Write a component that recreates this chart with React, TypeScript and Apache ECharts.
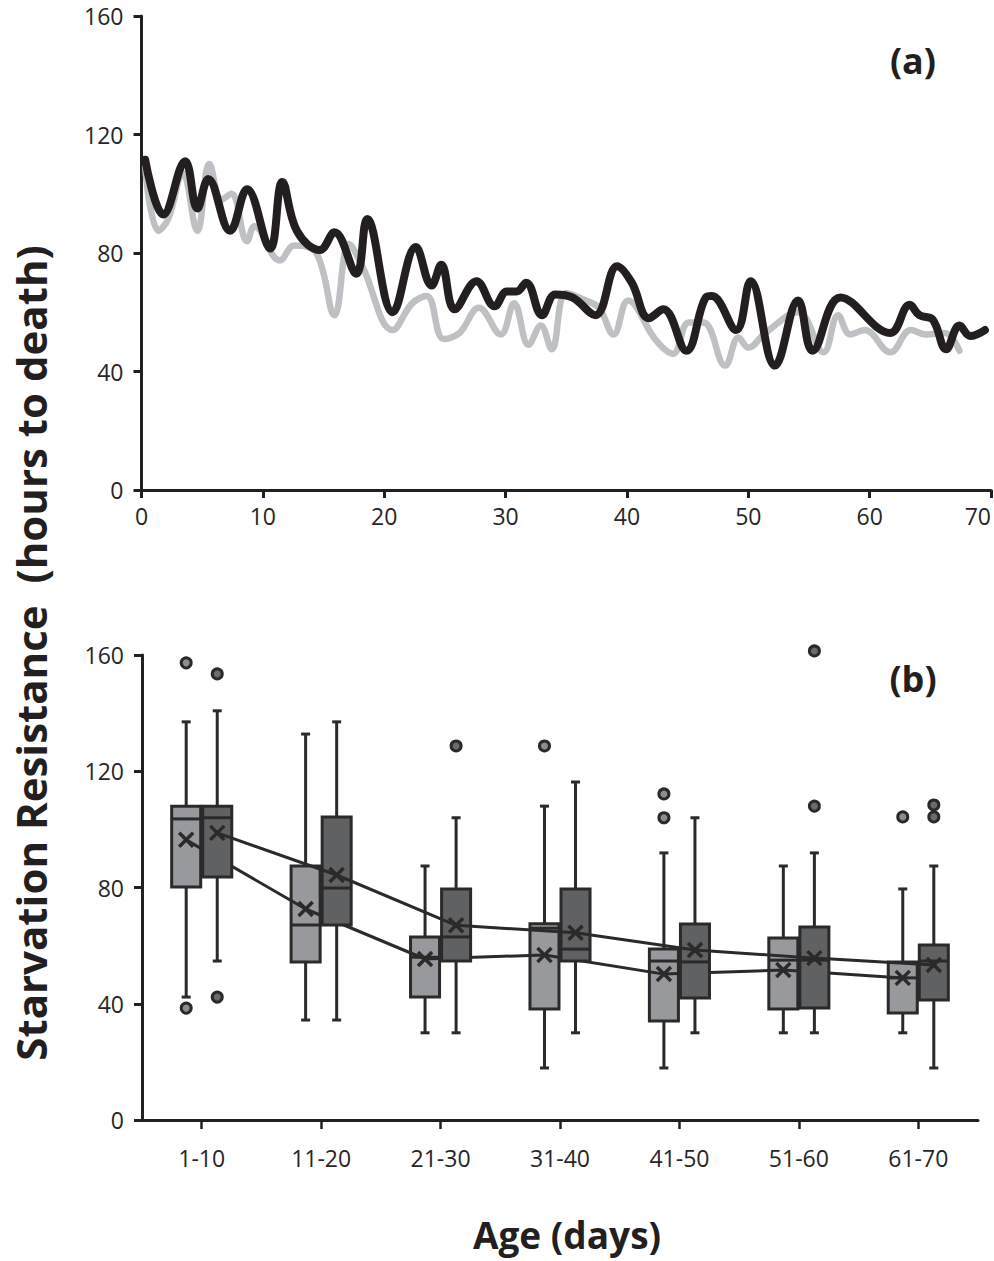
import React, { useEffect, useRef } from "react";
import * as echarts from "echarts";

// ---------- Panel (a): starvation resistance by day ----------
const blackDays = [0.3, 1.8, 3.6, 4.6, 5.5, 7.3, 8.7, 10.6, 11.6, 12.8, 14.7, 15.9, 17.7, 18.6, 20.7, 22.6, 23.9, 24.7, 25.8, 27.6, 29.1, 30.1, 30.9, 31.7, 33.0, 34.1, 35.5, 37.4, 39.2, 40.4, 41.8, 43.0, 44.9, 46.5, 47.0, 49.0, 50.2, 52.2, 54.1, 55.3, 57.6, 61.7, 63.3, 64.1, 65.2, 66.3, 67.4, 68.3, 69.5];
const blackValues = [111.5, 93, 111, 95, 105, 87.5, 101.5, 81.5, 104, 87.5, 81, 87, 73, 91.5, 60, 82, 69, 76, 61, 70.5, 62, 67, 67, 70, 59, 66, 65, 59, 75.5, 70, 58, 61, 47, 65, 65.5, 54, 70.5, 42, 64, 47, 65, 53, 62.5, 59, 57.5, 47.5, 55.5, 52, 54];

const grayDays = [0.3, 1.4, 2.2, 3.4, 4.6, 5.6, 6.6, 7.4, 8.7, 9.3, 11.4, 12.6, 14.4, 15.9, 17.1, 18.2, 20.7, 22.3, 23.5, 24.9, 26.2, 27.8, 29.6, 30.7, 31.9, 32.9, 33.8, 35.0, 36.6, 37.7, 38.9, 40.1, 42.4, 43.8, 45.1, 46.3, 48.1, 49.2, 50.0, 51.4, 54.1, 56.2, 57.4, 58.4, 59.6, 61.7, 63.4, 64.6, 66.2, 67.4];
const grayValues = [109, 87.5, 91.5, 107, 87.5, 110, 98, 100, 84, 89, 77.5, 82.5, 80, 59, 83, 75.5, 54, 63, 65.5, 51, 53, 61.5, 52.5, 63, 49, 55.5, 47.5, 66.5, 64, 61.5, 52.5, 64, 50.5, 46, 56.5, 56.5, 42, 51.5, 48, 53, 60, 46.5, 59, 52.5, 54, 46.5, 54, 52.5, 53, 47];

// ---------- Panel (b): box plots by age class ----------
const categories = ["1-10", "11-20", "21-30", "31-40", "41-50", "51-60", "61-70"];
const yTicks = [0, 40, 80, 120, 160];

// [min whisker, Q1, median, Q3, max whisker]
const lightBoxes = [
  [42.3, 80.2, 103.6, 108, 137],
  [34.4, 54.4, 67.1, 87.4, 132.8],
  [30, 42.3, 56, 63, 87.4],
  [17.9, 38.2, 66, 67.5, 108],
  [17.9, 34.1, 54.7, 58.8, 91.9],
  [30, 38.2, 55, 62.6, 87.4],
  [30, 36.8, 48.9, 54.4, 79.5],
];
const darkBoxes = [
  [54.7, 83.6, 104, 108, 140.8],
  [34.4, 67.1, 79.8, 104.3, 137],
  [30, 54.7, 63, 79.5, 104],
  [30, 54.7, 58.8, 79.5, 116.3],
  [30, 42, 54.4, 67.4, 104],
  [30, 38.5, 55, 66.4, 91.9],
  [17.9, 41.3, 54.7, 60.2, 87.4],
];
const lightMeans = [96.4, 72.6, 55.4, 56.8, 50.2, 51.6, 48.9];
const darkMeans = [98.8, 84.3, 67, 64.4, 58.5, 55.7, 53.3];
// outliers: [category index, value]
const lightOutliers = [[0, 157.3], [0, 38.5], [3, 128.7], [4, 112.2], [4, 104], [6, 104.3]];
const darkOutliers = [[0, 153.5], [0, 42.3], [2, 128.7], [5, 161.4], [5, 108], [6, 108.4], [6, 104.3]];

const LIGHT_FILL = "#98999c";
const DARK_FILL = "#606163";
const INK = "#2b2a2b";
const FONT = "'Open Sans', sans-serif";
const OFFSET = 0.13; // half distance between the two boxes of a group, in category units
const BOX_W = 0.243;

function pairs(xs: number[], ys: number[]) {
  return xs.map((x, i) => [x, ys[i]]);
}

function boxRows(boxes: number[][], means: number[], side: number) {
  return boxes.map((b, i) => [i + 0.5 + side * OFFSET, ...b, means[i]]);
}

function makeRenderer(fill: string) {
  return (params: any, api: any) => {
    const x = api.value(0);
    const p = (v: number) => api.coord([x, v]);
    const [cx, yMin] = p(api.value(1));
    const yQ1 = p(api.value(2))[1];
    const yMed = p(api.value(3))[1];
    const yQ3 = p(api.value(4))[1];
    const yMax = p(api.value(5))[1];
    const yMean = p(api.value(6))[1];
    const half = api.size([BOX_W, 0])[0] / 2;
    const cap = 4.5;
    const m = 7;
    const ls = { stroke: INK, lineWidth: 3 };
    return {
      type: "group",
      children: [
        { type: "line", shape: { x1: cx, y1: yMax, x2: cx, y2: yQ3 }, style: ls },
        { type: "line", shape: { x1: cx, y1: yQ1, x2: cx, y2: yMin }, style: ls },
        { type: "line", shape: { x1: cx - cap, y1: yMax, x2: cx + cap, y2: yMax }, style: ls },
        { type: "line", shape: { x1: cx - cap, y1: yMin, x2: cx + cap, y2: yMin }, style: ls },
        {
          type: "rect",
          shape: { x: cx - half, y: yQ3, width: half * 2, height: yQ1 - yQ3 },
          style: { fill, stroke: INK, lineWidth: 3 },
        },
        { type: "line", shape: { x1: cx - half, y1: yMed, x2: cx + half, y2: yMed }, style: ls },
        { type: "line", shape: { x1: cx - m, y1: yMean - m, x2: cx + m, y2: yMean + m }, style: { stroke: INK, lineWidth: 3.5 } },
        { type: "line", shape: { x1: cx - m, y1: yMean + m, x2: cx + m, y2: yMean - m }, style: { stroke: INK, lineWidth: 3.5 } },
      ],
    };
  };
}

const axisLineStyle = { lineStyle: { color: "#231f20", width: 3 } };
const tickStyle = { show: true, inside: false, length: 8, lineStyle: { color: "#231f20", width: 3 } };
const labelStyle = { color: "#262626", fontSize: 23, fontFamily: FONT };

export default function App() {
  const ref = useRef<HTMLDivElement>(null);

  useEffect(() => {
    if (!ref.current) return;
    const chart = echarts.init(ref.current, null, { renderer: "svg" });
    const option: any = {
      animation: false,
      backgroundColor: "#ffffff",
      grid: [
        { left: 141.5, top: 16, width: 852, height: 474 },
        { left: 142, top: 655, width: 836, height: 465 },
      ],
      xAxis: [
        {
          type: "value",
          gridIndex: 0,
          min: 0,
          max: 70,
          interval: 10,
          axisLine: { show: true, ...axisLineStyle },
          axisTick: tickStyle,
          axisLabel: { ...labelStyle, margin: 14, alignMaxLabel: "right" },
          splitLine: { show: false },
        },
        {
          type: "category",
          gridIndex: 1,
          data: categories,
          boundaryGap: true,
          axisLine: { show: true, ...axisLineStyle },
          axisTick: { ...tickStyle, length: 9, alignWithLabel: true, lineStyle: { color: "#231f20", width: 2.5 } },
          axisLabel: { ...labelStyle, margin: 26 },
          splitLine: { show: false },
        },
        {
          type: "value",
          gridIndex: 1,
          min: 0,
          max: 7,
          show: false,
          splitLine: { show: false },
        },
      ],
      yAxis: [
        {
          type: "value",
          gridIndex: 0,
          min: 0,
          max: 160,
          interval: 40,
          axisLine: { show: true, ...axisLineStyle },
          axisTick: tickStyle,
          axisLabel: { ...labelStyle, margin: 18 },
          splitLine: { show: false },
        },
        {
          type: "value",
          gridIndex: 1,
          min: yTicks[0],
          max: yTicks[yTicks.length - 1],
          interval: 40,
          axisLine: { show: true, ...axisLineStyle },
          axisTick: tickStyle,
          axisLabel: { ...labelStyle, margin: 18 },
          splitLine: { show: false },
        },
      ],
      series: [
        {
          type: "line",
          xAxisIndex: 0,
          yAxisIndex: 0,
          data: pairs(grayDays, grayValues),
          smooth: 0.4,
          showSymbol: false,
          symbol: "none",
          lineStyle: { color: "#bfc0c3", width: 6.5, cap: "round", join: "round" },
          z: 2,
        },
        {
          type: "line",
          xAxisIndex: 0,
          yAxisIndex: 0,
          data: pairs(blackDays, blackValues),
          smooth: 0.4,
          showSymbol: false,
          symbol: "none",
          lineStyle: { color: "#231f20", width: 8, cap: "round", join: "round" },
          z: 3,
        },
        {
          type: "custom",
          xAxisIndex: 2,
          yAxisIndex: 1,
          data: boxRows(lightBoxes, lightMeans, -1),
          encode: { x: 0, y: [1, 2, 3, 4, 5, 6] },
          renderItem: makeRenderer(LIGHT_FILL),
          z: 2,
        },
        {
          type: "line",
          xAxisIndex: 2,
          yAxisIndex: 1,
          data: lightMeans.map((v, i) => [i + 0.5 - OFFSET, v]),
          symbol: "none",
          lineStyle: { color: INK, width: 3 },
          z: 3,
        },
        {
          type: "custom",
          xAxisIndex: 2,
          yAxisIndex: 1,
          data: boxRows(darkBoxes, darkMeans, 1),
          encode: { x: 0, y: [1, 2, 3, 4, 5, 6] },
          renderItem: makeRenderer(DARK_FILL),
          z: 4,
        },
        {
          type: "line",
          xAxisIndex: 2,
          yAxisIndex: 1,
          data: darkMeans.map((v, i) => [i + 0.5 + OFFSET, v]),
          symbol: "none",
          lineStyle: { color: INK, width: 3 },
          z: 5,
        },
        {
          type: "scatter",
          xAxisIndex: 2,
          yAxisIndex: 1,
          data: lightOutliers.map(([c, v]) => [c + 0.5 - OFFSET, v]),
          symbol: "circle",
          symbolSize: 10,
          clip: false,
          itemStyle: { color: "#8d8e90", borderColor: INK, borderWidth: 3, opacity: 1 },
          z: 6,
        },
        {
          type: "scatter",
          xAxisIndex: 2,
          yAxisIndex: 1,
          data: darkOutliers.map(([c, v]) => [c + 0.5 + OFFSET, v]),
          symbol: "circle",
          symbolSize: 10,
          clip: false,
          itemStyle: { color: "#6a6b6d", borderColor: INK, borderWidth: 3, opacity: 1 },
          z: 6,
        },
      ],
      graphic: [
        {
          type: "text",
          x: 30,
          y: 653,
          rotation: Math.PI / 2,
          style: {
            text: "Starvation Resistance  (hours to death)",
            font: `bold 42px ${FONT}`,
            fill: "#231f20",
            textAlign: "center",
            textVerticalAlign: "middle",
          },
        },
        {
          type: "text",
          x: 913,
          y: 60,
          style: { text: "(a)", font: `bold 36px ${FONT}`, fill: "#231f20", textAlign: "center", textVerticalAlign: "middle" },
        },
        {
          type: "text",
          x: 913,
          y: 678,
          style: { text: "(b)", font: `bold 36px ${FONT}`, fill: "#231f20", textAlign: "center", textVerticalAlign: "middle" },
        },
        {
          type: "text",
          x: 567,
          y: 1234,
          style: { text: "Age (days)", font: `bold 37px ${FONT}`, fill: "#231f20", textAlign: "center", textVerticalAlign: "middle" },
        },
      ],
    };
    chart.setOption(option);
    return () => chart.dispose();
  }, []);

  return (
    <div
      ref={ref}
      style={{ position: "fixed", left: 0, top: 0, width: 994, height: 1261, background: "#fff" }}
    />
  );
}
